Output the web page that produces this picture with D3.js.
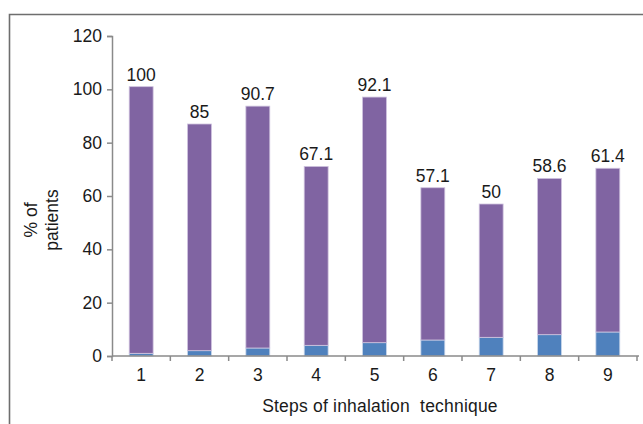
<!DOCTYPE html>
<html><head><meta charset="utf-8">
<script src="https://cdn.jsdelivr.net/npm/d3@7"></script>
<style>body{margin:0;background:#fff}svg{display:block}text{font-family:"Liberation Sans",Arial,sans-serif;fill:#1a1a1a}</style>
</head><body>
<script>
const categories = ["1","2","3","4","5","6","7","8","9"];
const blueValues = [1,2,3,4,5,6,7,8,9];
const purpleValues = [100,85,90.7,67.1,92.1,57.1,50,58.6,61.4];
const labelValues = ["100","85","90.7","67.1","92.1","57.1","50","58.6","61.4"];
const yTicks = [0,20,40,60,80,100,120];

const W=643,H=424,FS="17.5px";
const svg=d3.select("body").append("svg").attr("width",W).attr("height",H);

// frame
svg.append("path").attr("d","M9.5,424 V14.5 H643").attr("fill","none").attr("stroke","#6e6e6e").attr("stroke-width",1.6);

const x=d3.scaleBand().domain(categories).range([112,637]).paddingInner(0.59).paddingOuter(0.295);
const y=d3.scaleLinear().domain([0,120]).range([356,36]);

const data=categories.map((c,i)=>({c,b:blueValues[i],p:purpleValues[i],l:labelValues[i]}));

// bars
const g=svg.append("g");
g.selectAll(".blue").data(data).join("rect")
 .attr("x",d=>x(d.c)).attr("width",x.bandwidth())
 .attr("y",d=>y(d.b)).attr("height",d=>y(0)-y(d.b))
 .attr("fill","#4f81bd").attr("stroke","#c9d6ea").attr("stroke-width",0.8);
g.selectAll(".purple").data(data).join("rect")
 .attr("x",d=>x(d.c)).attr("width",x.bandwidth())
 .attr("y",d=>y(d.b+d.p)).attr("height",d=>y(d.b)-y(d.b+d.p))
 .attr("fill","#8064a2").attr("stroke","#cfc3df").attr("stroke-width",0.8);

// value labels
g.selectAll(".lab").data(data).join("text")
 .attr("x",d=>x(d.c)+x.bandwidth()/2).attr("y",d=>y(d.b+d.p)-6)
 .attr("text-anchor","middle").style("font-size",FS).text(d=>d.l);

// y axis
const ya=svg.append("g").attr("transform","translate(112,0)")
 .call(d3.axisLeft(y).tickValues(yTicks).tickSize(5).tickPadding(5));
ya.select(".domain").attr("stroke","#8a8a8a").attr("stroke-width",1.5);
ya.selectAll(".tick line").attr("stroke","#8a8a8a").attr("stroke-width",1.5);
ya.selectAll(".tick text").style("font-size",FS).style("font-family","Liberation Sans, Arial, sans-serif").attr("fill","#1a1a1a");

// x axis
const xa=svg.append("g").attr("transform","translate(0,356)")
 .call(d3.axisBottom(x).tickSize(0).tickPadding(13));
xa.select(".domain").remove();
xa.selectAll(".tick text").style("font-size",FS).style("font-family","Liberation Sans, Arial, sans-serif").attr("fill","#1a1a1a");
const gap=(x.step()-x.bandwidth())/2;
const bounds=categories.map(c=>x(c)-gap).concat([x(categories[categories.length-1])+x.bandwidth()+gap]);
svg.append("line").attr("x1",112).attr("x2",bounds[bounds.length-1]+2).attr("y1",356).attr("y2",356).attr("stroke","#8a8a8a").attr("stroke-width",1.5);
svg.selectAll(".xt").data(bounds).join("line")
 .attr("x1",d=>d).attr("x2",d=>d).attr("y1",356).attr("y2",361)
 .attr("stroke","#8a8a8a").attr("stroke-width",1.5);

// titles
svg.append("text").attr("x",380).attr("y",412).attr("text-anchor","middle").style("font-size",FS)
 .style("letter-spacing","0.2px").attr("xml:space","preserve").text("Steps of inhalation  technique");
const yt=svg.append("text").attr("transform","translate(37,220) rotate(-90)").attr("text-anchor","middle").style("font-size",FS);
yt.append("tspan").attr("x",0).attr("y",0).text("% of");
yt.append("tspan").attr("x",0).attr("y",21).text("patients");
</script>
</body></html>
